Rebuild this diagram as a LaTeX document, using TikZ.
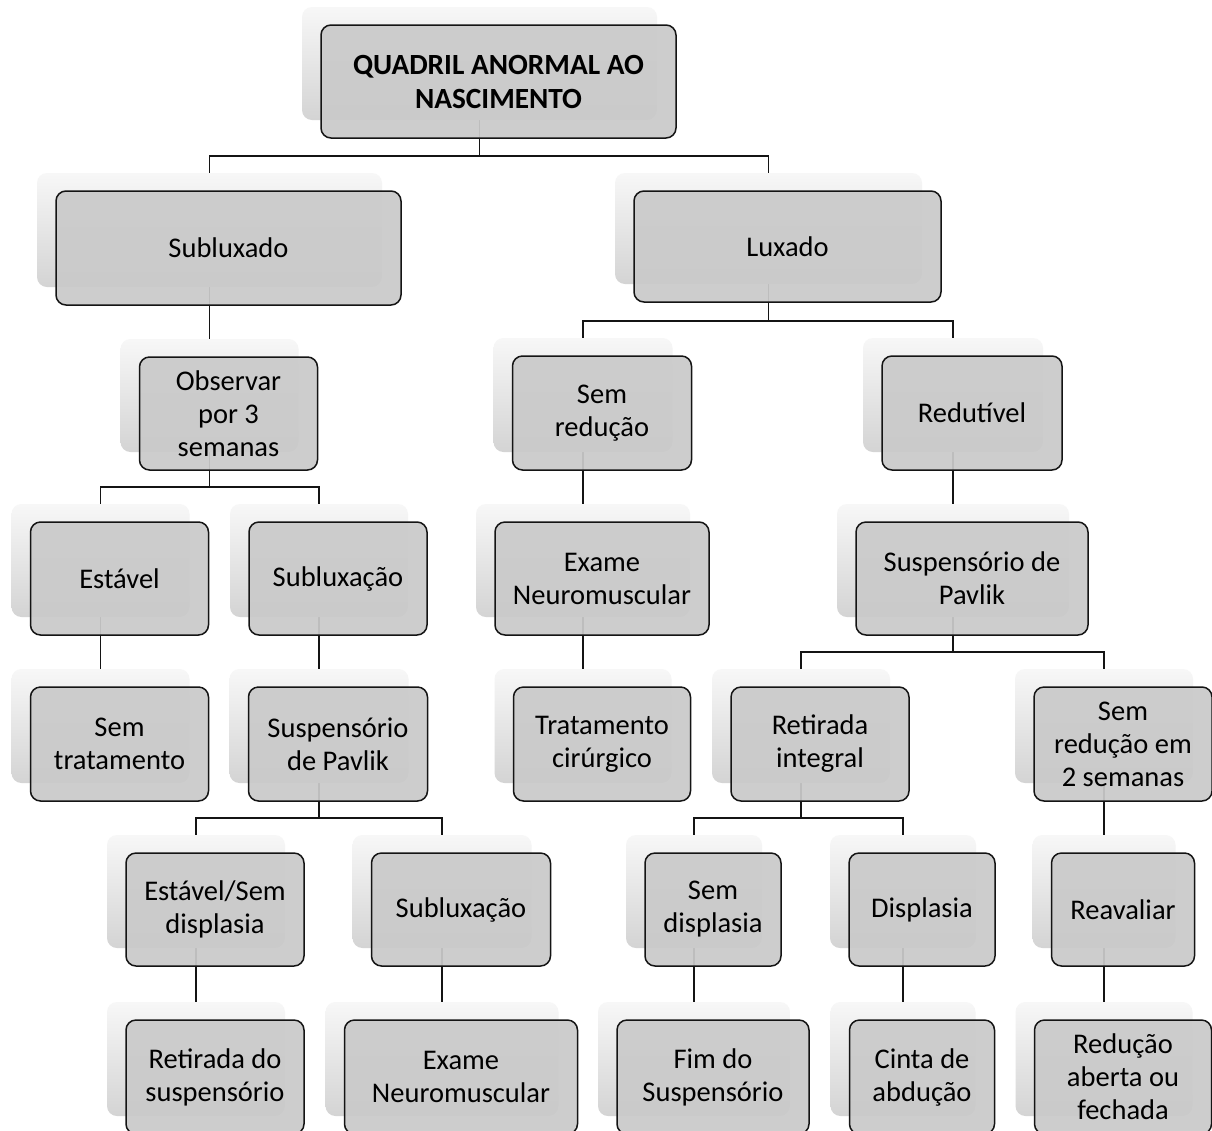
\documentclass[tikz,border=0pt]{standalone}
\usepackage{fontspec}
\setmainfont{Carlito}
\usetikzlibrary{backgrounds}
\definecolor{ink}{HTML}{141414}
\definecolor{boxgray}{HTML}{CACACA}
\tikzset{
  backcard/.style={
    rectangle,
    rounded corners=10pt,
    top color=black!3,
    bottom color=black!17,
    inner sep=0pt
  },
  frontbox/.style={
    rectangle,
    rounded corners=10pt,
    draw=ink,
    line width=1.5pt,
    fill=boxgray,
    fill opacity=0.93,
    text opacity=1,
    text=black,
    align=center,
    inner sep=0pt,
    font=\fontsize{28.5}{33}\selectfont
  },
  link/.style={
    draw=ink,
    line width=1.6pt
  }
}

\begin{document}
\begin{tikzpicture}[x=1pt,y=-1pt]

\useasboundingbox (0,0) rectangle (1212,1130);
\clip (0,0) rectangle (1212,1130);

% Root
\node[backcard, minimum width=355pt, minimum height=113pt] (root) at (479.5,63.5) {};
\node[frontbox, font=\bfseries\fontsize{29.3}{34}\selectfont,
      minimum width=355pt, minimum height=113pt] (root-f)
  at ([shift={(19pt,-18pt)}]root.center) {QUADRIL ANORMAL AO\\NASCIMENTO};

% ---------- Boxes ----------
\foreach \nm/\x/\y/\w/\h/\txt in {
  sub/209.5/230/345/114/Subluxado,
  lux/768.5/228.5/307/111/Luxado,
  obs/209.5/395.5/178/113/Observar\\por 3\\semanas,
  semred/583/395/179/114/Sem\\redução,
  redut/953/395/180/114/Redutível,
  estavel/100.5/560.5/178/113/Estável,
  sublx/319/560.5/178/113/Subluxação,
  exneuro/583/560.5/214/113/Exame\\Neuromuscular,
  pavlikR/953/560.5/232/113/Suspensório de\\Pavlik,
  semtrat/100.5/726/178/114/Sem\\tratamento,
  pavlikL/319/726/179/114/Suspensório\\de Pavlik,
  cirurg/583/726/177/114/Tratamento\\cirúrgico,
  retint/801/726/178/114/Retirada\\integral,
  semred2/1104/726/178/114/Sem\\redução em\\2 semanas,
  estsem/196/891.5/178/113/Estável\slash Sem\\displasia,
  sublx2/442/891.5/179/113/Subluxação,
  semdisp/694/891.5/136/113/Sem\\displasia,
  displ/903/891.5/146/113/Displasia,
  reaval/1104/891.5/143/113/Reavaliar,
  retsusp/196/1059/178/114/Retirada do\\suspensório,
  exneuro2/442/1059/233/114/Exame\\Neuromuscular,
  fimsusp/694/1059/192/114/Fim do\\Suspensório,
  cinta/903/1059/145/114/Cinta de\\abdução,
  reduc/1104/1059/177/114/Redução\\aberta ou\\fechada}{
  \node[backcard, minimum width=\w*1pt, minimum height=\h*1pt] (\nm) at (\x,\y) {};
  \node[frontbox, minimum width=\w*1pt, minimum height=\h*1pt] (\nm-f)
    at ([shift={(19pt,-18pt)}]\nm.center) {\txt};
}

% ---------- Connectors ----------
\begin{scope}[on background layer]
\fill[white] (0,0) rectangle (1212,1130);
\foreach \p/\c in {
  root/sub, root/lux,
  sub/obs,
  lux/semred, lux/redut,
  obs/estavel, obs/sublx,
  semred/exneuro, redut/pavlikR,
  estavel/semtrat, sublx/pavlikL,
  exneuro/cirurg,
  pavlikR/retint, pavlikR/semred2,
  pavlikL/estsem, pavlikL/sublx2,
  retint/semdisp, retint/displ,
  semred2/reaval,
  estsem/retsusp, sublx2/exneuro2,
  semdisp/fimsusp, displ/cinta,
  reaval/reduc}{
  \draw[link] (\p.south) |- ([yshift=17pt]\c.north) -- (\c.north);
}
\end{scope}

\end{tikzpicture}
\end{document}
